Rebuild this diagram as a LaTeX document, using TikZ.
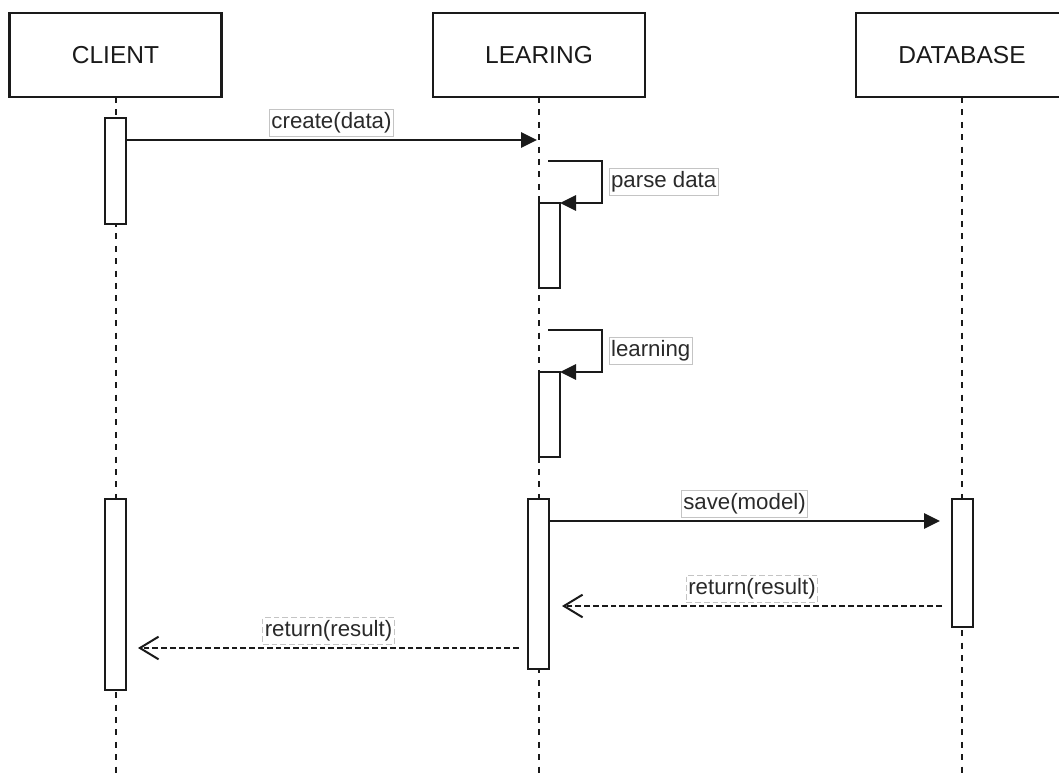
\documentclass[tikz,border=0pt]{standalone}
\usepackage{fontspec}
\setmainfont{Liberation Sans}
\usetikzlibrary{arrows.meta,calc}

\definecolor{ink}{HTML}{1A1A1A}
\definecolor{txt}{HTML}{2A2A2A}
\definecolor{lblframe}{HTML}{C4C4C4}

\begin{document}
\begin{tikzpicture}[x=0.75pt, y=-0.75pt, line width=1.6pt, color=ink,
  header/.style={draw=ink, fill=white, line width=1.6pt, minimum width=159pt,
    minimum height=63pt, inner sep=0pt, outer sep=0pt, text=ink,
    font=\fontsize{18.4pt}{22pt}\selectfont},
  actbox/.style={draw=ink, fill=white, line width=1.6pt, minimum width=15.75pt,
    inner sep=0pt, outer sep=0pt},
  lifeline/.style={draw=ink, line width=1.5pt, dash pattern=on 4.5pt off 4.8pt},
  msg/.style={draw=ink, -{Triangle[length=12pt,width=11.5pt]}},
  ret/.style={draw=ink, line width=1.5pt, dash pattern=on 4.3pt off 2.3pt,
    -{Straight Barb[length=14pt,width=17pt,line width=1.5pt]}},
  lbl/.style={draw=lblframe, line width=0.6pt, fill=white, text=txt,
    inner xsep=1.5pt, inner ysep=2pt, text height=12.3pt, text depth=3.6pt,
    font=\fontsize{16.7pt}{20pt}\selectfont}
]
\useasboundingbox (0,0) rectangle (1059,773);
\clip (0,0) rectangle (1059,773);

% participants
\node[header] (cli) at (115.5,55) {CLIENT};
\node[header] (lrn) at (539,55) {LEARING};
\node[header] (dbs) at (962,55) {DATABASE};

% lifeline ends
\coordinate (cliEnd) at (115.5,773);
\coordinate (lrnEnd) at (539,773);
\coordinate (dbsEnd) at (962,773);

\draw[lifeline] (cli.south) -- (cliEnd);
\draw[lifeline] (lrn.south) -- (lrnEnd);
\draw[lifeline] (dbs.south) -- (dbsEnd);

% activation bars
\node[actbox, minimum height=79.5pt]  (a1) at (115.5,171) {};
\node[actbox, minimum height=63.75pt] (l1) at (549.5,245.5) {};
\node[actbox, minimum height=63.75pt] (l2) at (549.5,414.5) {};
\node[actbox, minimum height=127.5pt] (l3) at (538.5,584) {};
\node[actbox, minimum height=143.25pt] (c2) at (115.5,594.5) {};
\node[actbox, minimum height=96pt]    (d1) at (962.5,563) {};

% create(data)
\coordinate (cStart) at ($(a1.north east)+(0,22)$);
\coordinate (lrnIn) at ($(cStart -| lrn.south)+(-2,0)$);
\draw[msg] (cStart) -- node[lbl, midway, above=2.6pt] {create(data)} (lrnIn);

% self calls
\coordinate (parseStart) at ($(l1.north west)+(9,-42)$);
\draw[msg] (parseStart) -- ++(54,0) -- ++(0,42)
  node[lbl, midway, right=5pt] {parse data} -- (l1.north east);

\coordinate (learnStart) at ($(l2.north west)+(9,-42)$);
\draw[msg] (learnStart) -- ++(54,0) -- ++(0,42)
  node[lbl, midway, right=5pt] {learning} -- (l2.north east);

% save(model)
\draw[msg] ($(l3.north east)+(0,22)$) -- node[lbl, midway, above=2.6pt] {save(model)}
  ($(d1.north west)+(-12,22)$);

% replies
\draw[ret] ($(d1.north west)+(-10,107)$) -- node[lbl, midway, above=2.6pt] {return(result)}
  ($(l3.north east)+(13,107)$);
\draw[ret] ($(l3.north west)+(-9,149)$) -- node[lbl, midway, above=2.6pt] {return(result)}
  ($(c2.north east)+(12,149)$);
\end{tikzpicture}
\end{document}
